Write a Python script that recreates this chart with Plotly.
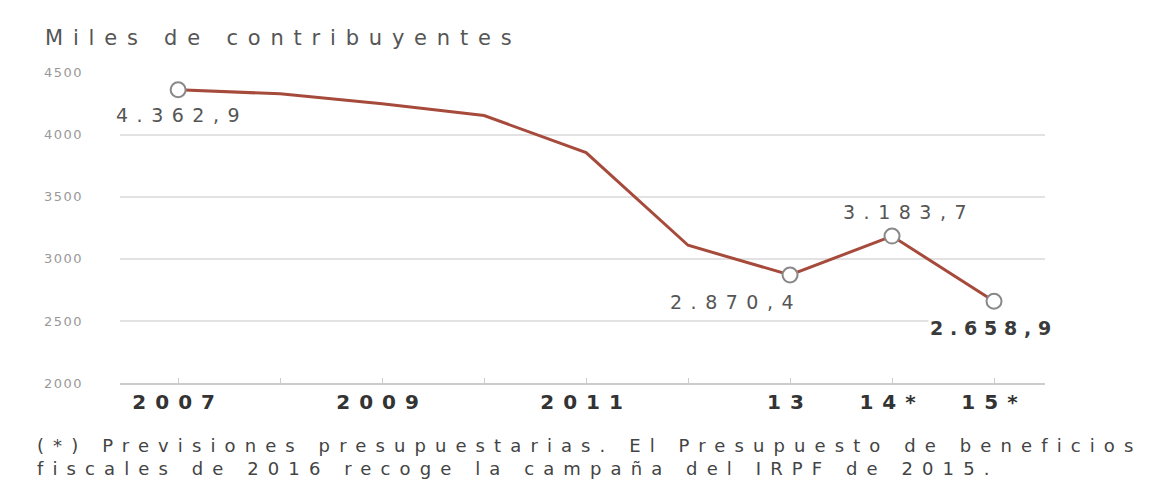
import plotly.graph_objects as go

years = [2007, 2008, 2009, 2010, 2011, 2012, 2013, 2014, 2015]
values = [4362.9, 4330, 4250, 4155, 3857, 3110, 2870.4, 3183.7, 2658.9]
marker_years = [2007, 2013, 2014, 2015]
marker_values = [4362.9, 2870.4, 3183.7, 2658.9]
x_tick_vals = [2007, 2008, 2009, 2010, 2011, 2012, 2013, 2014, 2015]
x_tick_text = ["2007", "", "2009", "", "2011", "", "13", "14*", "15*"]
y_tick_vals = [2000, 2500, 3000, 3500, 4000, 4500]
y_tick_text = ["2000", "2500", "3000", "3500", "4000", "4500"]
labels = ["4.362,9", "2.870,4", "3.183,7", "2.658,9"]
title = "Miles de contribuyentes"
note_lines = ["(*) Previsiones presupuestarias. El Presupuesto de beneficios",
              "fiscales de 2016 recoge la campaña del IRPF de 2015."]

FONT = "DejaVu Sans, Liberation Sans, Arial, sans-serif"


def sp(t, ls, bold=False):
    if not t:
        return t
    s = '<span style="letter-spacing:%.1fpx">%s</span>' % (ls, t)
    return "<b>%s</b>" % s if bold else s


fig = go.Figure()
fig.add_trace(go.Scatter(x=years, y=values, mode="lines",
                         line=dict(color="#a64b3c", width=3), hoverinfo="skip"))
fig.add_trace(go.Scatter(x=marker_years, y=marker_values, mode="markers",
                         marker=dict(size=15, color="white", line=dict(color="#888", width=2)),
                         hoverinfo="skip"))

offsets = [(4, 25), (-54, 27), (17, -24), (0, 27)]
for (xv, yv, t, (dx, dy)) in zip(marker_years, marker_values, labels, offsets):
    bold = t == "2.658,9"
    fig.add_annotation(x=xv, y=yv, text=sp(t, 8.5 if not bold else 6.8, bold),
                       showarrow=False, xshift=dx, yshift=-dy,
                       font=dict(family=FONT, size=19, color="#3a3a3a" if bold else "#555"),
                       bgcolor="white")

fig.add_annotation(xref="paper", yref="paper", x=-0.083, y=1.065, xanchor="left",
                   yanchor="bottom", text=sp(title, 9.8), showarrow=False,
                   font=dict(family=FONT, size=21, color="#555"))
fig.add_annotation(xref="paper", yref="paper", x=-0.092, y=-0.16, xanchor="left",
                   yanchor="top", align="left", showarrow=False,
                   text="<br>".join(sp(l, 9.1) for l in note_lines),
                   font=dict(family=FONT, size=18, color="#444"))

fig.update_layout(
    width=1170, height=488,
    margin=dict(l=120, r=125, t=72, b=105),
    paper_bgcolor="white", plot_bgcolor="white",
    showlegend=False,
    xaxis=dict(range=[2006.43, 2015.5], tickvals=x_tick_vals,
               ticktext=[sp(t, 9.0, True) for t in x_tick_text],
               showgrid=False, zeroline=False, showline=True, linecolor="#ccc", linewidth=2,
               ticks="inside", ticklen=5, tickcolor="#ccc",
               tickfont=dict(family=FONT, size=20, color="#333")),
    yaxis=dict(range=[2000, 4506], tickvals=y_tick_vals,
               ticktext=[sp(t, 1.5) for t in y_tick_text],
               showgrid=True, gridcolor="#e2e2e2",
               gridwidth=2, zeroline=False, showline=False, ticklabelstandoff=36,
               tickfont=dict(family=FONT, size=13, color="#999")),
)

fig.write_html("out.html")
